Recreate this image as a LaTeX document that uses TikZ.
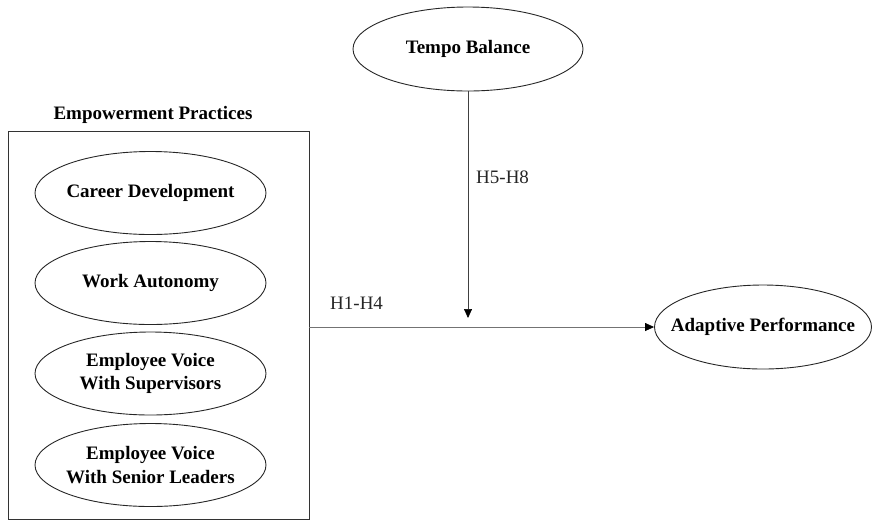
\documentclass[tikz,border=0pt]{standalone}
\usepackage{fontspec}
\setmainfont{Liberation Serif}
\usetikzlibrary{shapes.geometric,arrows.meta}

\tikzset{
  construct/.style={ellipse, draw=black!85, line width=0.9pt, inner sep=0pt,
    minimum width=231pt, minimum height=83pt,
    label={[align=center, inner sep=0pt,
      font=\fontsize{19}{23.5}\selectfont\bfseries]center:#1}},
  groupbox/.style={draw=black!80, line width=0.9pt, inner sep=0pt},
  path/.style={draw=black!55, line width=0.7pt,
    -{Triangle[length=9pt,width=8pt,color=black]}},
  hyp/.style={font=\fontsize{19}{23}\selectfont, text=black!85, inner sep=0pt, anchor=west},
}

\begin{document}
\begin{tikzpicture}[x=1pt, y=-1pt]
  \useasboundingbox (0,0) rectangle (877,523);

  % grouping box of empowerment practices
  \node[groupbox, minimum width=301pt, minimum height=388pt] (box) at (158.5,325) {};
  \node[font=\fontsize{19}{23}\selectfont\bfseries, inner sep=0pt] (title) at (153,115) {Empowerment Practices};

  \node[construct={Career Development}] (cd) at (150.5,193) {};
  \node[construct={Work Autonomy}] (wa) at (150.5,283) {};
  \node[construct={Employee Voice\\With Supervisors}] (evs) at (150.5,373.5) {};
  \node[construct={Employee Voice\\With Senior Leaders}] (evl) at (150.5,465) {};

  % moderator and outcome
  \node[construct={Tempo Balance}, minimum width=230pt, minimum height=84pt] (tb) at (468,49) {};
  \node[construct={Adaptive Performance}, minimum width=217pt, minimum height=84pt] (ap) at (763,327) {};

  % direct path and moderation
  \draw[path] (box.east |- ap.west) -- (ap.west);
  \coordinate (mod) at (470,318);
  \draw[path, draw=black!75] (tb.south) -- (tb.south |- mod);

  \node[hyp] (h14) at (330,303) {H1-H4};
  \node[hyp] (h58) at (476,177) {H5-H8};
\end{tikzpicture}
\end{document}
